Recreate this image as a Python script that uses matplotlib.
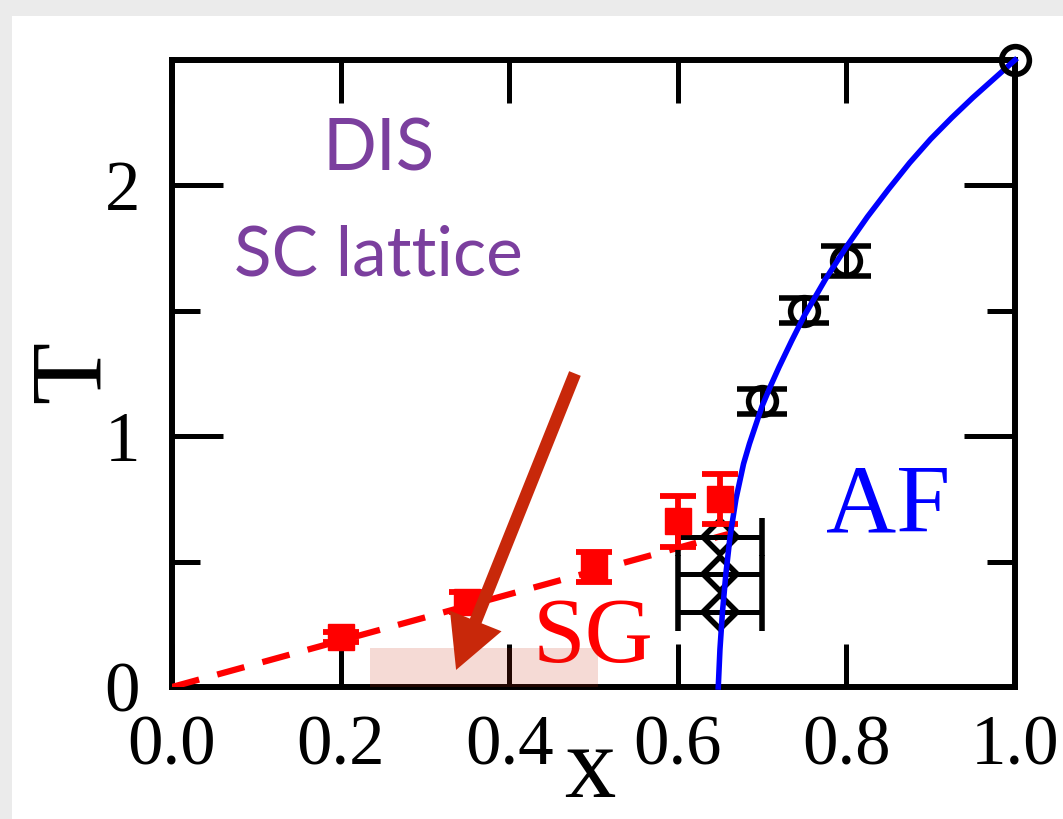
import matplotlib
matplotlib.use('Agg')
import matplotlib.pyplot as plt
from matplotlib.patches import Rectangle
from matplotlib.ticker import MultipleLocator, FuncFormatter

# spin glass points (red squares)
sg_x = [0.20, 0.35, 0.50, 0.60, 0.65]
sg_T = [0.20, 0.34, 0.48, 0.66, 0.75]
sg_err = [0.02, 0.04, 0.06, 0.10, 0.10]

# dashed SG line
sg_line_x = [0.0, 0.66]
sg_line_T = [0.0, 0.61]

# AF points (open circles)
af_x = [0.70, 0.75, 0.80]
af_T = [1.14, 1.50, 1.70]
af_err = [0.05, 0.05, 0.06]
pure_x = [1.0]
pure_T = [2.5]

# diamonds at x = 0.65
dia_x = [0.65, 0.65, 0.65]
dia_T = [0.30, 0.45, 0.60]
dia_err = [0.05, 0.05, 0.05]

# AF boundary (blue curve)
af_line_x = [0.648, 0.650, 0.653, 0.657, 0.662, 0.669, 0.678, 0.685, 0.700, 0.710,
             0.720, 0.735, 0.750, 0.775, 0.800, 0.825, 0.850, 0.875, 0.900, 0.925,
             0.950, 0.975, 1.000]
af_line_T = [0.00, 0.15, 0.30, 0.45, 0.60, 0.75, 0.89, 0.97, 1.12, 1.20,
             1.275, 1.38, 1.48, 1.625, 1.755, 1.875, 1.985, 2.09, 2.185, 2.27,
             2.35, 2.425, 2.50]

arrow_color = '#c8280a'
purple = '#7b3f9e'
serif = 'Liberation Serif'

fig = plt.figure(figsize=(10.63, 8.19), dpi=100)
fig.patch.set_facecolor('#ebebeb')
fig.patches.append(Rectangle((12/1063, 0), 1, 1 - 16/819, transform=fig.transFigure,
                             facecolor='white', edgecolor='none', zorder=-5))

ax = fig.add_axes([172/1063, 1 - 687/819, (1015-172)/1063, (687-60)/819])
ax.set_xlim(0, 1)
ax.set_ylim(0, 2.5)

for s in ax.spines.values():
    s.set_linewidth(4.3)

ax.xaxis.set_major_locator(MultipleLocator(0.2))
ax.yaxis.set_major_locator(MultipleLocator(1))
ax.yaxis.set_minor_locator(MultipleLocator(0.5))
ax.xaxis.set_major_formatter(FuncFormatter(lambda v, p: '%.1f' % v))
ax.tick_params(axis='both', which='both', direction='in', top=True, right=True, width=3.6)
ax.tick_params(axis='x', which='major', length=31, pad=20, labelsize=51)
ax.tick_params(axis='y', which='major', length=37, pad=23, labelsize=51)
ax.tick_params(axis='y', which='minor', length=20)
for lab in ax.get_xticklabels() + ax.get_yticklabels():
    lab.set_family(serif)

ax.set_xlabel('x', fontsize=74, family=serif, va='center')
ax.xaxis.set_label_coords(0.496, -0.135)
ax.set_ylabel('T', fontsize=73, family=serif, va='center')
ax.yaxis.set_label_coords(-0.115, 0.502)

# SG dashed line and points
ax.plot(sg_line_x, sg_line_T, color='red', lw=4.5, dashes=(4.5, 3), zorder=3)
ax.errorbar(sg_x, sg_T, yerr=sg_err, fmt='s', color='red', ms=19, elinewidth=4.2,
            capsize=13, capthick=4.2, zorder=4)

# AF line and points
ax.plot(af_line_x, af_line_T, color='#0000ff', lw=4, zorder=4, clip_on=False,
        solid_joinstyle='round')
ax.errorbar(af_x, af_T, yerr=af_err, fmt='o', color='black', mfc='none', ms=20, mew=4,
            elinewidth=3.6, capsize=18, capthick=3.6, zorder=3)
ax.plot(pure_x, pure_T, 'o', color='black', mfc='none', ms=20, mew=4, clip_on=False, zorder=5)

ax.errorbar(dia_x, dia_T, xerr=dia_err, fmt='D', color='black', mfc='none', ms=17, mew=4,
            elinewidth=3.6, capsize=14, capthick=3.6, zorder=3)

# highlighted region and arrow
ax.add_patch(Rectangle((0.235, 0), 0.27, 0.155, facecolor=arrow_color, alpha=0.17,
                       edgecolor='none', zorder=5))
ax.annotate('', xy=(0.337, 0.068), xytext=(0.478, 1.25),
            arrowprops=dict(width=9, headwidth=40, headlength=38, shrink=0,
                            color=arrow_color, lw=0), zorder=6)

# labels
ax.text(0.245, 2.06, 'DIS', color=purple, fontsize=51, family='Lato', ha='center',
        va='baseline')
ax.text(0.245, 1.64, 'SC lattice', color=purple, fontsize=50, family='Lato', ha='center',
        va='baseline')
ax.text(0.849, 0.62, 'AF', color='#0000ff', fontsize=70, family=serif, ha='center',
        va='baseline')
ax.text(0.5, 0.1, 'SG', color='red', fontsize=68, family=serif, ha='center',
        va='baseline')

# cut-off slide title
fig.text(276/1063, 1.008, 'phase diagram', fontsize=25, family='Lato', va='baseline')

fig.savefig('out.png', dpi=100, facecolor=fig.get_facecolor())
